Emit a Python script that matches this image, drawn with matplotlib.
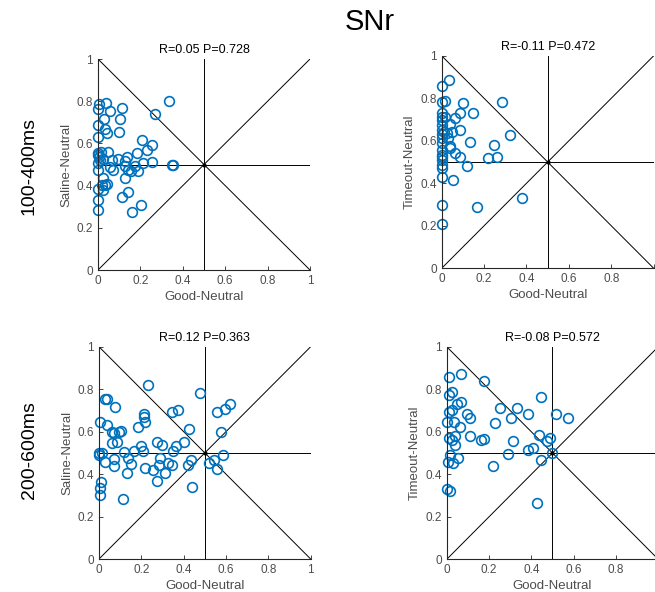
import numpy as np
import matplotlib.pyplot as plt

plt.rcParams['font.family'] = ['Liberation Sans', 'DejaVu Sans']

# values
saline_early_x = [0.335, 0.269, 0.005, 0.036, 0.002, 0.112, 0.056, 0.104, 0.028, 0.002,
                  0.033, 0.041, 0.099, 0.0, 0.206, 0.256, 0.23, 0.182, 0.049, 0.0,
                  0.013, 0.005, 0.025, 0.135, 0.064, 0.096, 0.127, 0.214, 0.253, 0.347,
                  0.352, 0.127, 0.175, 0.057, 0.069, 0.143, 0.156, 0.19, 0.0, 0.022,
                  0.127, 0.017, 0.033, 0.044, 0.0, 0.025, 0.143, 0.115, 0.0, 0.203,
                  0.162, 0.0, 0.0, 0.008, 0.0]
saline_early_y = [0.80, 0.739, 0.787, 0.79, 0.765, 0.768, 0.752, 0.716, 0.716, 0.686,
                  0.670, 0.649, 0.652, 0.63, 0.615, 0.591, 0.567, 0.555, 0.558, 0.547,
                  0.558, 0.534, 0.526, 0.536, 0.523, 0.526, 0.515, 0.507, 0.51, 0.5,
                  0.496, 0.491, 0.494, 0.488, 0.476, 0.476, 0.468, 0.471, 0.472, 0.436,
                  0.436, 0.404, 0.404, 0.407, 0.385, 0.378, 0.37, 0.344, 0.33, 0.31,
                  0.273, 0.283, 0.555, 0.52, 0.505]

timeout_early_x = [0.036, 0.0, 0.283, 0.0, 0.016, 0.102, 0.149, 0.086, 0.0, 0.003,
                   0.016, 0.0, 0.063, 0.039, 0.0, 0.086, 0.0, 0.013, 0.0, 0.024,
                   0.047, 0.322, 0.0, 0.031, 0.134, 0.248, 0.039, 0.039, 0.0, 0.0,
                   0.063, 0.26, 0.217, 0.086, 0.0, 0.0, 0.0, 0.118, 0.0, 0.003,
                   0.055, 0.0, 0.0, 0.165, 0.0, 0.38]
timeout_early_y = [0.886, 0.857, 0.784, 0.781, 0.787, 0.776, 0.732, 0.733, 0.732, 0.713,
                   0.713, 0.697, 0.705, 0.679, 0.674, 0.65, 0.65, 0.643, 0.632, 0.635,
                   0.64, 0.627, 0.611, 0.611, 0.596, 0.582, 0.577, 0.564, 0.588, 0.556,
                   0.541, 0.525, 0.517, 0.522, 0.533, 0.522, 0.51, 0.481, 0.486, 0.473,
                   0.415, 0.428, 0.30, 0.29, 0.208, 0.33]

saline_late_x = [0.23, 0.03, 0.038, 0.479, 0.074, 0.345, 0.373, 0.006, 0.211, 0.214,
                 0.219, 0.038, 0.184, 0.424, 0.061, 0.069, 0.093, 0.106, 0.085, 0.061,
                 0.274, 0.298, 0.4, 0.2, 0.364, 0.35, 0.167, 0.208, 0.12, 0.0,
                 0.014, 0.0, 0.027, 0.069, 0.072, 0.135, 0.153, 0.29, 0.326, 0.345,
                 0.282, 0.219, 0.254, 0.31, 0.436, 0.42, 0.132, 0.274, 0.011, 0.006,
                 0.006, 0.439, 0.112, 0.52, 0.545, 0.559, 0.587, 0.559, 0.594, 0.619,
                 0.576]
saline_late_y = [0.819, 0.754, 0.754, 0.78, 0.714, 0.694, 0.702, 0.647, 0.681, 0.667,
                 0.647, 0.631, 0.623, 0.612, 0.6, 0.592, 0.6, 0.603, 0.553, 0.545,
                 0.553, 0.537, 0.549, 0.532, 0.532, 0.509, 0.509, 0.51, 0.505, 0.498,
                 0.5, 0.49, 0.458, 0.471, 0.44, 0.477, 0.446, 0.477, 0.454, 0.443,
                 0.443, 0.427, 0.419, 0.407, 0.466, 0.443, 0.403, 0.367, 0.364, 0.333,
                 0.301, 0.338, 0.281, 0.45, 0.466, 0.423, 0.49, 0.691, 0.705, 0.73,
                 0.597]

timeout_late_x = [0.066, 0.011, 0.178, 0.446, 0.024, 0.013, 0.068, 0.05, 0.013, 0.024,
                  0.252, 0.331, 0.304, 0.386, 0.095, 0.11, 0.003, 0.035, 0.063, 0.229,
                  0.11, 0.013, 0.024, 0.039, 0.039, 0.161, 0.174, 0.311, 0.438, 0.473,
                  0.486, 0.517, 0.573, 0.50, 0.446, 0.292, 0.383, 0.407, 0.221, 0.016,
                  0.008, 0.032, 0.055, 0.0, 0.016, 0.426]
timeout_late_y = [0.87, 0.859, 0.839, 0.762, 0.788, 0.773, 0.741, 0.729, 0.694, 0.702,
                  0.713, 0.71, 0.666, 0.682, 0.682, 0.663, 0.647, 0.644, 0.621, 0.643,
                  0.582, 0.569, 0.561, 0.538, 0.58, 0.561, 0.564, 0.558, 0.585, 0.558,
                  0.569, 0.682, 0.666, 0.499, 0.467, 0.494, 0.514, 0.522, 0.439, 0.49,
                  0.459, 0.451, 0.475, 0.329, 0.323, 0.266]

titles = ['R=0.05 P=0.728', 'R=-0.11 P=0.472', 'R=0.12 P=0.363', 'R=-0.08 P=0.572']
ylabels = ['Saline-Neutral', 'Timeout-Neutral', 'Saline-Neutral', 'Timeout-Neutral']
rows = ['100-400ms', '200-600ms']
ticks = [0, 0.2, 0.4, 0.6, 0.8, 1]
tick_labels = ['0', '0.2', '0.4', '0.6', '0.8', '1']

panels = [(saline_early_x, saline_early_y), (timeout_early_x, timeout_early_y),
          (saline_late_x, saline_late_y), (timeout_late_x, timeout_late_y)]
positions = [[0.1496, 0.5439, 0.3237, 0.3564],
             [0.6743, 0.5468, 0.3237, 0.3590],
             [0.1511, 0.0557, 0.3232, 0.3586],
             [0.6820, 0.0552, 0.3230, 0.3591]]

blue = '#0072BD'
grey = '#262626'

fig = plt.figure(figsize=(6.55, 5.92), dpi=100)

for i, (xs, ys) in enumerate(panels):
    ax = fig.add_axes(positions[i])
    ax.plot([0, 1], [0, 1], color='k', lw=0.7)
    ax.plot([0, 1], [1, 0], color='k', lw=0.7)
    ax.plot([0.5, 0.5], [0, 1], color='k', lw=0.7)
    ax.plot([0, 1], [0.5, 0.5], color='k', lw=0.7)
    ax.plot(xs, ys, 'o', mfc='none', mec=blue, ms=7, mew=1.2, clip_on=False)
    ax.plot(0.5, 0.5, 'k.', ms=4)
    ax.set_xlim(0, 1)
    ax.set_ylim(0, 1)
    ax.set_xticks(ticks)
    # right-hand panels run off the figure edge, so their last label is not shown
    if i % 2 == 1:
        ax.set_xticklabels(tick_labels[:-1] + [''])
    else:
        ax.set_xticklabels(tick_labels)
    ax.set_yticks(ticks)
    ax.set_yticklabels(tick_labels)
    for s in ['top', 'right']:
        ax.spines[s].set_visible(False)
    for s in ['left', 'bottom']:
        ax.spines[s].set_color(grey)
        ax.spines[s].set_linewidth(0.8)
    ax.tick_params(direction='in', length=3, width=0.6, colors=grey,
                   labelsize=8.5, labelcolor='#4d4d4d', pad=3.5)
    ax.set_title(titles[i], fontsize=9, pad=4)
    ax.set_xlabel('Good-Neutral', fontsize=9.5, color='#4d4d4d', labelpad=3)
    ax.set_ylabel(ylabels[i], fontsize=9.5, color='#4d4d4d', labelpad=3)

fig.text(0.565, 0.963, 'SNr', ha='center', va='center', fontsize=21)
fig.text(0.045, 0.72, rows[0], rotation=90, ha='center', va='center', fontsize=14)
fig.text(0.045, 0.24, rows[1], rotation=90, ha='center', va='center', fontsize=14)

fig.savefig('out.png', dpi=100)
